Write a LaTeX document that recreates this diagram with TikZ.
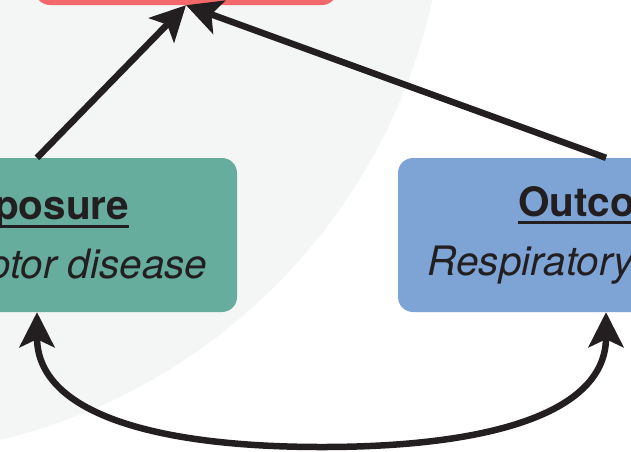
\documentclass[tikz,border=0pt]{standalone}
\usepackage{fontspec}
\setmainfont{TeX Gyre Heros}
\usetikzlibrary{arrows.meta,positioning}
\definecolor{collidercolor}{HTML}{F3696B}
\definecolor{exposurecolor}{HTML}{66AD9E}
\definecolor{outcomecolor}{HTML}{7EA4D6}
\definecolor{shadecolor}{HTML}{F4F6F5}
\definecolor{inkcolor}{HTML}{231F20}
\newcommand{\ulbox}[1]{\setbox0\hbox{#1}\rlap{\rule[-8pt]{\wd0}{3pt}}\box0}

\begin{document}
\begin{tikzpicture}[x=1pt, y=-1pt,
    >={Stealth[length=35pt, width=35pt, inset=8pt]},
    varbox/.style={
        rectangle, rounded corners=15pt, minimum width=#1, minimum height=154pt,
        inner sep=0pt, align=center, text=inkcolor,
        font=\fontsize{40.5}{59}\selectfont
    },
    causal/.style={
        ->, line width=6.5pt, draw=inkcolor
    }
]

% Frame
\useasboundingbox (0,0) rectangle (631,451);
\clip (0,0) rectangle (631,451);
\fill[white] (0,0) rectangle (631,451);

% Shaded disc behind the collider
\fill[shadecolor] (-136,-126) circle[radius=582pt];

% Variables
\node[varbox=302pt, minimum height=84pt, fill=collidercolor] (collider) at (186,-37) {};
\node[varbox=400pt, fill=exposurecolor] (exposure) at (37,235)
    {\textbf{\ulbox{Exposure}}\\\textit{Locomotor disease}};
\node[varbox=416pt, fill=outcomecolor] (outcome) at (606,235)
    {\textbf{\ulbox{Outcome}}\\\textit{Respiratory disease}};

% Paths into the collider
\draw[causal] (exposure.north) -- (collider.south);
\draw[causal] (outcome.north) -- (collider.south);

% Association between exposure and outcome
\coordinate (dip) at (322,447);
\draw[causal, <->] (exposure.south) .. controls +(0,100) and +(-170,0) .. (dip)
    .. controls +(170,0) and +(0,100) .. (outcome.south);

\end{tikzpicture}
\end{document}
